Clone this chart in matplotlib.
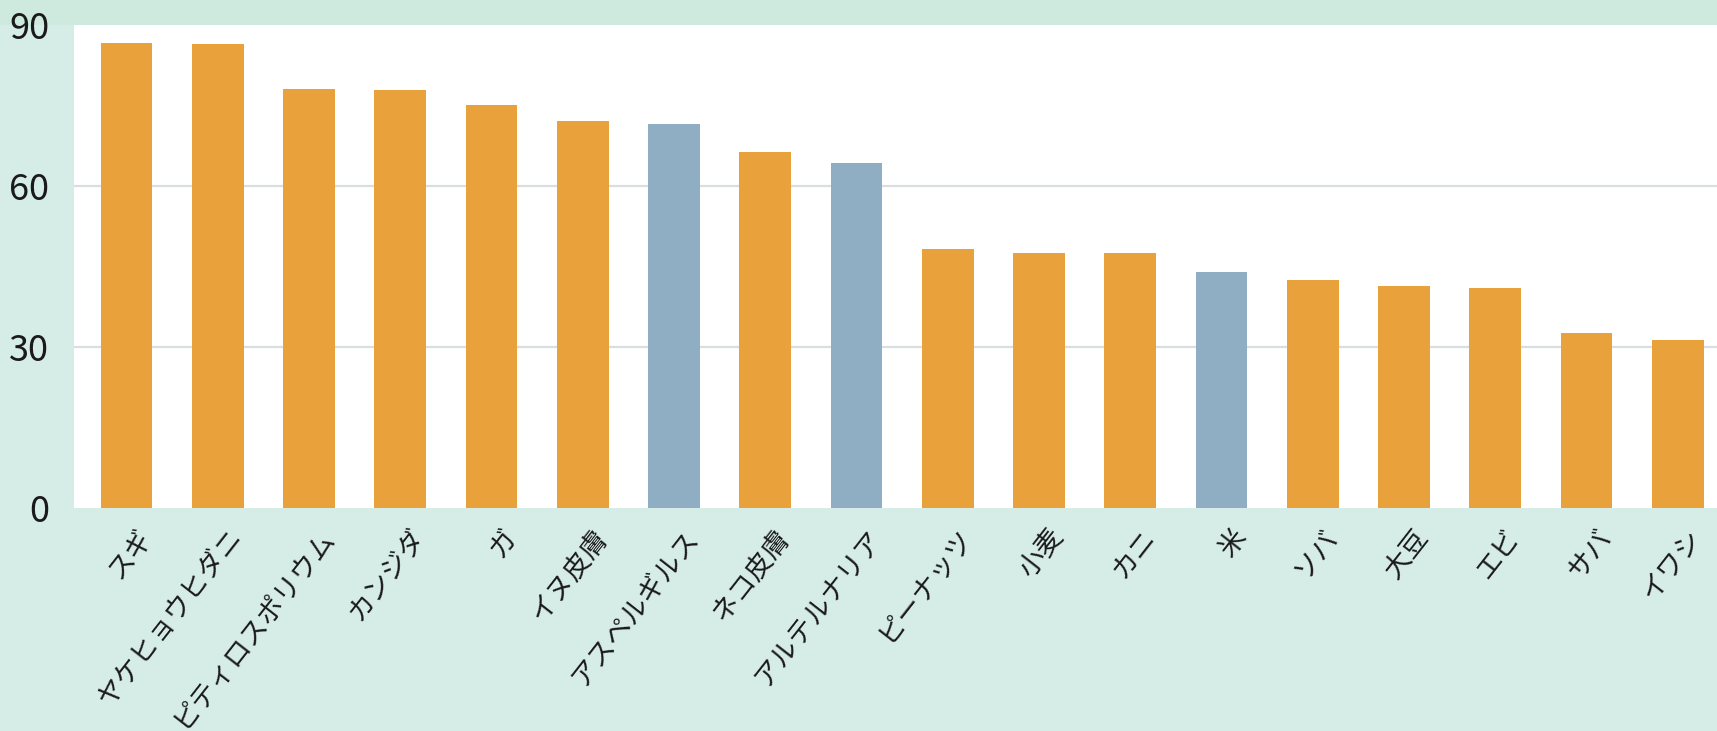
import matplotlib
matplotlib.use('Agg')
import matplotlib.pyplot as plt
import matplotlib.transforms as mtransforms

plt.rcParams['font.family'] = ['Noto Sans CJK JP', 'DejaVu Sans']

# データ
labels = ['スギ', 'ヤケヒョウヒダニ', 'ピティロスポリウム', 'カンジダ', 'ガ', 'イヌ皮膚',
          'アスペルギルス', 'ネコ皮膚', 'アルテルナリア', 'ピーナッツ', '小麦', 'カニ',
          '米', 'ソバ', '大豆', 'エビ', 'サバ', 'イワシ']
values = [86.7, 86.5, 78.1, 77.8, 75.0, 72.0, 71.6, 66.4, 64.2,
          48.2, 47.5, 47.5, 43.9, 42.5, 41.3, 41.0, 32.5, 31.2]
groups = ['o', 'o', 'o', 'o', 'o', 'o', 'b', 'o', 'b',
          'o', 'o', 'o', 'b', 'o', 'o', 'o', 'o', 'o']
yticks = [0, 30, 60, 90]

orange = '#E9A23B'
blue = '#8FAEC4'
colors = [orange if g == 'o' else blue for g in groups]

fig = plt.figure(figsize=(17.17, 7.31), dpi=100)
fig.patch.set_facecolor('#D6ECE6')
# 上の帯は少し濃いミント色
strip = fig.add_axes([0, 1 - 25 / 731, 1, 25 / 731])
strip.set_axis_off()
strip.add_patch(plt.Rectangle((0, 0), 1, 1, transform=strip.transAxes,
                              facecolor='#CEE9DE', edgecolor='none'))
strip.set_zorder(0)

ax = fig.add_axes([74 / 1717, 1 - 507.5 / 731, 1 - 74 / 1717, (507.5 - 25) / 731])
ax.set_zorder(2)
ax.set_facecolor('white')

xs = list(range(len(labels)))
ax.bar(xs, values, width=0.566, color=colors, zorder=3)

ax.set_ylim(0, 90)
ax.set_xlim(-0.575, 17.43)
ax.set_yticks(yticks)
ax.set_yticklabels([str(t) for t in yticks], fontsize=26, color='#1a1a1a')
ax.tick_params(axis='y', length=0, pad=18)
ax.tick_params(axis='x', length=0, pad=12)
ax.set_xticks(xs)
ax.set_xticklabels(labels, fontsize=19.5, rotation=52, ha='right', va='top',
                   rotation_mode='anchor', color='#1a1a1a')
# ラベルを少し右へずらす
shift = mtransforms.ScaledTranslation(9 / 100, 0, fig.dpi_scale_trans)
for lab in ax.get_xticklabels():
    lab.set_transform(lab.get_transform() + shift)

for y in [30, 60]:
    ax.axhline(y, color='#D9DEE0', linewidth=1.6, zorder=1)

for s in ax.spines.values():
    s.set_visible(False)

fig.savefig('out.png', dpi=100, facecolor=fig.get_facecolor())
